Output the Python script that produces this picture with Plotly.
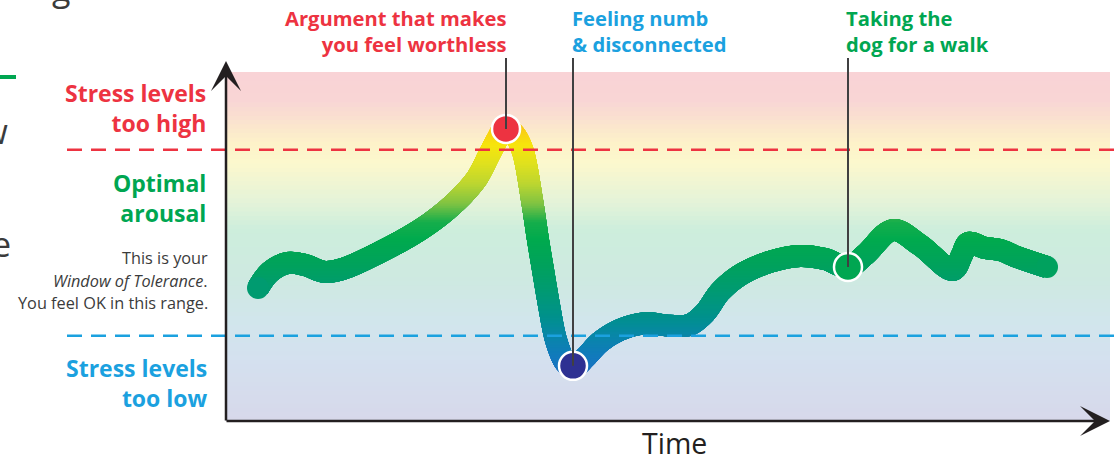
import plotly.graph_objects as go

# ---------------- data ----------------
# time in arbitrary units (0 .. 88.2 across the axis), stress level 0..100
time = [3.2, 4.4, 6.2, 7.9, 9.9, 11.9, 15.4, 18.4, 20.4, 22.1, 23.7, 25.1, 26.3, 27.2, 27.9,
        28.9, 29.7, 30.6, 31.2, 31.7, 32.3, 33.0, 33.9, 34.7, 35.9, 37.4, 39.4, 41.9,
        44.4, 46.4, 47.9, 49.4, 51.4, 54.4, 57.4, 59.9, 62.2, 63.9, 66.7, 69.4, 72.7,
        73.6, 74.2, 75.9, 77.4, 79.1, 82.1]
stress = [38.1, 42.7, 45.3, 44.7, 42.7, 43.8, 48.4, 53.0, 56.7, 60.5, 64.8, 69.6, 76.2, 81.1, 84.2,
          81.9, 77.1, 63.3, 51.9, 43.3, 33.2, 23.2, 16.9, 15.2, 18.1, 22.6, 26.1, 28.0,
          27.3, 27.6, 31.0, 37.0, 41.8, 45.6, 47.3, 46.4, 44.1, 47.6, 54.7, 50.4, 43.3,
          47.6, 51.0, 49.6, 49.0, 47.0, 44.1]

event_time = [28.0, 34.7, 62.2]
event_stress = [83.7, 15.8, 44.1]
event_labels = ["Argument that makes<br>you feel worthless",
                "Feeling numb<br>& disconnected",
                "Taking the<br>dog for a walk"]

high_threshold = 77.7
low_threshold = 24.4

zone_labels = ["Stress levels<br>too high", "Optimal<br>arousal", "Stress levels<br>too low"]
tolerance_lines = ["This is your", "<i>Window of Tolerance</i>.", "You feel OK in this range."]
x_label = "Time"

X_MAX = 88.2
Y_MAX = 100.0

# ---------------- styling ----------------
RED = "#ed3341"
GREEN = "#00a651"
BLUE = "#1ba1df"
DARK = "#231f20"
GREY = "#3b3b3b"
FONT = "Open Sans"

event_colors = [RED, "#2e3192", GREEN]
label_colors = [RED, BLUE, GREEN]

line_stops = [
    (10, "#236bc2"), (18, "#1279be"), (24, "#0985aa"), (30, "#00918b"),
    (37, "#009a73"), (45, "#00a25b"), (52, "#00aa4e"), (57, "#16ae4b"),
    (62, "#7cc243"), (68, "#bdd630"), (74, "#e1e11d"), (79, "#f7e50c"),
    (84, "#f8c915"), (92, "#f5b81a"),
]
bg_stops = [
    (0, "#d7d8ea"), (17, "#d4e0ef"), (29, "#d1e6ec"), (40, "#cee9e1"),
    (55, "#cdeedc"), (63, "#e5f3d8"), (74, "#fcf8cd"), (80, "#fdf1c9"),
    (86, "#fae2cf"), (92, "#f9d5d5"), (100, "#f9d3d6"),
]

W, H = 1117, 461
L, R, T, B = 226, 1108, 72, 421


def paper_x(p):
    return (p - L) / (R - L)


def paper_y(p):
    return (B - p) / (B - T)


def hex_to_rgb(h):
    h = h.lstrip("#")
    return tuple(int(h[i:i + 2], 16) for i in (0, 2, 4))


def color_at(stops, v):
    if v <= stops[0][0]:
        return stops[0][1]
    for (v0, c0), (v1, c1) in zip(stops, stops[1:]):
        if v <= v1:
            f = (v - v0) / (v1 - v0)
            a, b = hex_to_rgb(c0), hex_to_rgb(c1)
            return "rgb(%d,%d,%d)" % tuple(round(a[i] + (b[i] - a[i]) * f) for i in range(3))
    return stops[-1][1]


fig = go.Figure()

# invisible trace on the main axes (keeps axes alive, gives hover)
fig.add_trace(go.Scatter(x=event_time, y=event_stress, xaxis="x", yaxis="y", mode="markers",
                         marker=dict(size=30, opacity=0), showlegend=False,
                         hovertext=[t.replace("<br>", " ") for t in event_labels], hoverinfo="text"))

axes_layout = {}
# The curve is drawn in overlapping horizontal bands (each its own clipped subplot),
# stacked bottom-up, so that its colour follows the stress level.
band_lo, band_hi, band_h, stride = 8.0, 92.0, 4.0, 0.5
v = band_lo
k = 2
while v < band_hi - 1e-9:
    a, b = v, min(v + band_h, Y_MAX)
    axes_layout["yaxis%d" % k] = dict(domain=[a / Y_MAX, b / Y_MAX], range=[a, b],
                                      visible=False, fixedrange=True)
    fig.add_trace(go.Scatter(x=time, y=stress, xaxis="x", yaxis="y%d" % k, mode="lines",
                             line=dict(color=color_at(line_stops, v + stride / 2), width=22,
                                       shape="spline", smoothing=1.0, simplify=False),
                             hoverinfo="skip", showlegend=False))
    v += stride
    k += 1

shapes = []
# background gradient
step = 1.25
v = 0.0
while v < Y_MAX - 1e-9:
    shapes.append(dict(type="rect", xref="paper", yref="paper", x0=0, x1=paper_x(1110),
                       y0=v / Y_MAX, y1=1, fillcolor=color_at(bg_stops, v + step / 2),
                       line=dict(width=0), layer="below"))
    v += step

# threshold dashed lines
for val, col in [(high_threshold, RED), (low_threshold, BLUE)]:
    shapes.append(dict(type="line", xref="paper", yref="paper", x0=paper_x(67), x1=paper_x(1117),
                       y0=val / Y_MAX, y1=val / Y_MAX,
                       line=dict(color=col, width=2.5, dash="15px,9px"), layer="above"))

# round caps at the ends of the curve
for i in (0, -1):
    shapes.append(dict(type="circle", xref="x", yref="y", xsizemode="pixel", ysizemode="pixel",
                       xanchor=time[i], yanchor=stress[i], x0=-11, x1=11, y0=-11, y1=11,
                       fillcolor=color_at(line_stops, stress[i]), line=dict(width=0), layer="above"))

# event dots
for t, s, c in zip(event_time, event_stress, event_colors):
    shapes.append(dict(type="circle", xref="x", yref="y", xsizemode="pixel", ysizemode="pixel",
                       xanchor=t, yanchor=s, x0=-14, x1=14, y0=-14, y1=14,
                       fillcolor=c, line=dict(color="white", width=2.5), layer="above"))
# leader lines
for t, s in zip(event_time, event_stress):
    shapes.append(dict(type="line", xref="x", yref="paper", x0=t, x1=t,
                       y0=s / Y_MAX, y1=paper_y(58),
                       line=dict(color="#404041", width=2), layer="above"))

# cropped fragment at top-left
shapes.append(dict(type="line", xref="paper", yref="paper", x0=paper_x(-2), x1=paper_x(16),
                   y0=paper_y(77), y1=paper_y(77), line=dict(color=GREEN, width=4), layer="above"))

ann = []


def text(t, xp, yp, size, color, xanchor, align="left", weight=700):
    ann.append(dict(text=t, x=paper_x(xp), y=paper_y(yp), xref="paper", yref="paper",
                    xanchor=xanchor, yanchor="middle", align=align, showarrow=False,
                    font=dict(family=FONT, size=size, color=color, weight=weight)))


# zone labels
text(zone_labels[0], 208, 108, 23, RED, "right", "right")
text(zone_labels[1], 208, 198, 23, GREEN, "right", "right")
text(zone_labels[2], 210, 383, 23, BLUE, "right", "right")
for line, yp in zip(tolerance_lines, [258, 280.5, 303]):
    text(line, 210, yp, 16.3, GREY, "right", "right", 400)

# event labels
text(event_labels[0], 509, 31.5, 20.2, label_colors[0], "right", "right")
text(event_labels[1], 570, 31.5, 20.2, label_colors[1], "left", "left")
text(event_labels[2], 844, 31.5, 20.2, label_colors[2], "left", "left")

# axis title
text(x_label, 674, 443, 28.5, DARK, "center", "center", 400)

# cropped fragments at the left edge
text("ow", 10, 131, 34, GREY, "right", "right", 400)
text("ve", 13, 244, 34, GREY, "right", "right", 400)
text("g", 61, -12, 34, GREY, "center", "center", 400)

# axis arrows
ann.append(dict(x=paper_x(1110), y=paper_y(421), xref="paper", yref="paper", text="",
                showarrow=True, arrowhead=3, arrowsize=2.0, arrowwidth=2.5, arrowcolor=DARK,
                ax=-(1110 - 225), ay=0, font=dict(size=1)))
ann.append(dict(x=paper_x(226), y=paper_y(61), xref="paper", yref="paper", text="",
                showarrow=True, arrowhead=3, arrowsize=2.0, arrowwidth=2.5, arrowcolor=DARK,
                ax=0, ay=(422 - 61), font=dict(size=1)))

fig.update_layout(
    width=W, height=H,
    margin=dict(l=L, r=W - R, t=T, b=H - B, pad=0),
    paper_bgcolor="white", plot_bgcolor="rgba(0,0,0,0)",
    showlegend=False,
    xaxis=dict(domain=[0, 1], range=[0, X_MAX], visible=False, fixedrange=True),
    yaxis=dict(domain=[0, 1], range=[0, Y_MAX], visible=False, fixedrange=True),
    shapes=shapes, annotations=ann,
    font=dict(family=FONT),
    **axes_layout,
)

fig.write_html("out.html", config={"displayModeBar": False},
               post_script="document.body.style.margin='0';document.body.style.overflow='hidden';")
